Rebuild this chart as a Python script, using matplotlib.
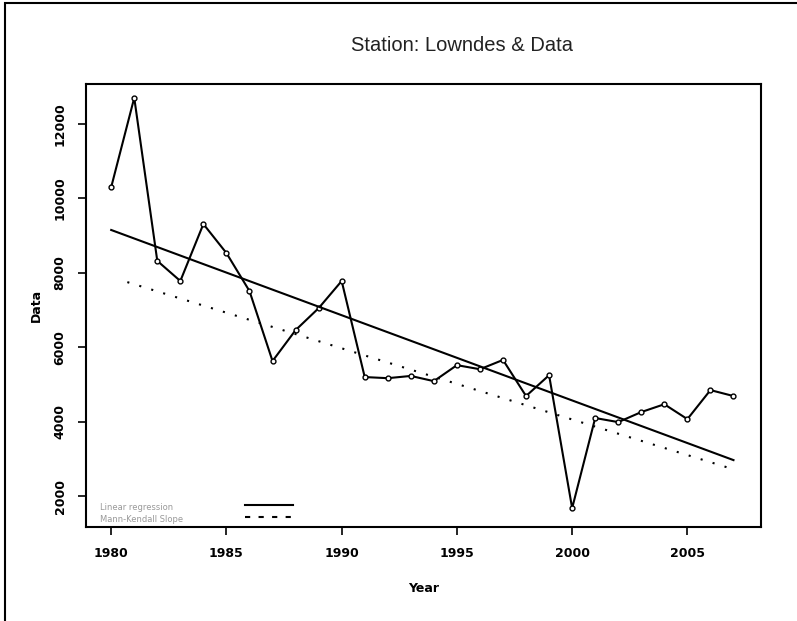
import matplotlib.pyplot as plt
import numpy as np

# yearly values
years = np.arange(1980, 2008)
data = [10300, 12700, 8320, 7780, 9310, 8530, 7510, 5630, 6460, 7050,
        7780, 5200, 5170, 5230, 5090, 5520, 5410, 5660, 4690, 5250,
        1680, 4100, 3990, 4260, 4470, 4070, 4850, 4690]

# trend lines (end points)
lin_x = [1980, 2007]
lin_y = [9150, 2970]
mk_x = [1980.7, 2006.7]
mk_y = [7750, 2780]

xticks = [1980, 1985, 1990, 1995, 2000, 2005]
yticks = [2000, 4000, 6000, 8000, 10000, 12000]

fig = plt.figure(figsize=(7.97, 6.21), dpi=100)
ax = fig.add_axes([0.108, 0.151, 0.847, 0.714])

ax.plot(years, data, color='black', lw=1.5, marker='o', ms=3.5,
        mfc='white', mec='black', mew=1)
ax.plot(lin_x, lin_y, color='black', lw=1.5)
ax.plot(mk_x, mk_y, color='black', lw=1.5, ls=(0, (1, 5)))

ax.set_xlim(1978.91, 2008.2)
ax.set_ylim(1167, 13075)
ax.set_xticks(xticks)
ax.set_yticks(yticks)
ax.set_xticklabels([str(t) for t in xticks], fontsize=9, fontweight='bold')
ax.set_yticklabels([str(t) for t in yticks], fontsize=9, fontweight='bold',
                   rotation=90, va='center')
ax.tick_params(direction='out', length=6, width=1.2, pad=8)
for s in ax.spines.values():
    s.set_linewidth(1.5)

ax.set_xlabel('Year', fontsize=9, fontweight='bold', labelpad=16)
ax.set_ylabel('Data', fontsize=9, fontweight='bold', labelpad=8)
fig.text(0.58, 0.927, 'Station: Lowndes & Data', fontsize=14.5,
         family='Liberation Sans', ha='center', va='center', color='#222222')

# hand-made legend in lower left corner
ax.text(0.021, 0.045, 'Linear regression', transform=ax.transAxes,
        fontsize=6, color='#999999', va='center')
ax.text(0.021, 0.018, 'Mann-Kendall Slope', transform=ax.transAxes,
        fontsize=6, color='#999999', va='center')
ax.plot([0.235, 0.307], [0.050, 0.050], transform=ax.transAxes,
        color='black', lw=1.5)
ax.plot([0.235, 0.307], [0.023, 0.023], transform=ax.transAxes,
        color='black', lw=1.5, ls=(0, (2.5, 4)))

# outer frame
fig.patches.append(plt.Rectangle((0.006, -0.01), 1.0, 1.005,
                                 transform=fig.transFigure, fill=False,
                                 edgecolor='black', lw=1.5))

fig.savefig('out.png', dpi=100)
